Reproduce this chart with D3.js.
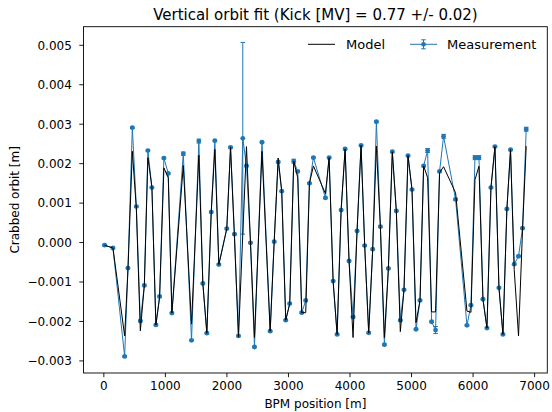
<!DOCTYPE html>
<html>
<head>
<meta charset="utf-8">
<script src="https://cdn.jsdelivr.net/npm/d3@7"></script>
<style>
  body { margin: 0; background: #fff; }
  text { font-family: "DejaVu Sans", sans-serif; fill: #000; }
</style>
</head>
<body>
<svg id="chart" width="552" height="412"></svg>
<script>
// BPM positions [m]
let bpm_pos = [20, 156, 346, 400, 471, 536, 601, 666, 724, 789, 854, 914, 984, 1055, 1114, 1299,
    1433, 1552, 1617, 1682, 1753, 1812, 1877, 2006, 2067, 2131, 2196, 2266, 2326, 2391, 2456,
    2578, 2711, 2776, 2841, 2899, 2964, 3029, 3094, 3159, 3224, 3289, 3349, 3414, 3609, 3669,
    3734, 3799, 3864, 3929, 3993, 4058, 4123, 4188, 4247, 4312, 4377, 4437, 4502, 4567, 4632,
    4696, 4761, 4826, 4886, 4951, 5016, 5081, 5146, 5205, 5270, 5334, 5399, 5464, 5529, 5724,
    5909, 5974, 6039, 6104, 6169, 6234, 6299, 6364, 6429, 6494, 6558, 6617, 6677, 6747, 6812, 6872];

// measured crabbed orbit [m]
let measured = [-0.00008, -0.00015, -0.0029, -0.00066, 0.0029, 0.0009, -0.002, -0.0011, 0.00232,
    0.00138, -0.0021, -0.00138, 0.00213, 0.00174, -0.0018, 0.00224, -0.00249, 0.00256, -0.00105,
    -0.00231, 0.00076, 0.00257, -0.00057, 0.00034, 0.0024, 0.0002, -0.00238, 0.00263, 0.00193,
    -0.00002, -0.00266, 0.00253, -0.00226, 0.00001, 0.00203, 0.00129, -0.00198, -0.00156, 0.00205,
    0.00179, -0.00179, -0.00148, 0.00149, 0.00214, 0.00112, 0.00214, -0.00099, -0.00234, 0.00081,
    0.00236, -0.00048, -0.0019, 0.00028, 0.00245, -0.00009, -0.0023, -0.00018, 0.00305, 0.00039,
    -0.0026, -0.00067, 0.00229, 0.00079, -0.00198, -0.00121, 0.00219, 0.00133, -0.00221, -0.00148,
    0.00193, 0.00232, -0.00202, -0.00223, 0.00179, 0.00268, 0.00108, -0.00211, -0.0016, 0.00214,
    0.00214, -0.00145, -0.00218, 0.00138, 0.00242, -0.00116, -0.00234, 0.00084, 0.00234, -0.00056,
    -0.00036, 0.00035, 0.00286];

// measurement errors [m]
let errors = [0.00002, 0.00002, 0.00002, 0.00002, 0.00002, 0.00002, 0.00002, 0.00002, 0.00002,
    0.00002, 0.00002, 0.00002, 0.00002, 0.00002, 0.00002, 0.00004, 0.00002, 0.00005, 0.00002,
    0.00002, 0.00002, 0.00002, 0.00002, 0.00002, 0.00002, 0.00002, 0.00002, 0.00243, 0.00002,
    0.00002, 0.00002, 0.00002, 0.00002, 0.00002, 0.00002, 0.00002, 0.00002, 0.00002, 0.00005,
    0.00002, 0.00002, 0.00002, 0.00002, 0.00002, 0.00002, 0.00002, 0.00002, 0.00002, 0.00002,
    0.00002, 0.00002, 0.00002, 0.00002, 0.00002, 0.00002, 0.00002, 0.00002, 0.00002, 0.00002,
    0.00002, 0.00002, 0.00002, 0.00002, 0.00002, 0.00002, 0.00002, 0.00002, 0.00002, 0.00002,
    0.00002, 0.00005, 0.00002, 0.00009, 0.00002, 0.00005, 0.00002, 0.00002, 0.00002, 0.00005,
    0.00005, 0.00002, 0.00002, 0.00002, 0.00002, 0.00002, 0.00002, 0.00002, 0.00002, 0.00002,
    0.00002, 0.00002, 0.00005];

// fitted model orbit [m]
let model = [-0.00008, -0.00015, -0.00238, -0.0007, 0.0023, 0.00085, -0.00225, -0.0011, 0.00214,
    0.0014, -0.0021, -0.0014, 0.00188, 0.00163, -0.0018, 0.00194, -0.00208, 0.0022, -0.00105,
    -0.00231, 0.00076, 0.00235, -0.00057, 0.00034, 0.0024, 0.0001, -0.0024, 0.0002, 0.00242,
    0.0, -0.00242, 0.0023, -0.00226, 0.0, 0.00213, 0.00129, -0.00198, -0.00156, 0.00205,
    0.00163, -0.00179, -0.00179, 0.00149, 0.00193, 0.00123, 0.00214, -0.00099, -0.00234, 0.00081,
    0.00236, -0.00048, -0.00242, 0.00028, 0.00245, -0.00009, -0.0023, -0.00018, 0.00243, 0.00039,
    -0.00242, -0.00067, 0.00229, 0.00079, -0.00227, -0.00121, 0.00219, 0.00133, -0.00204, -0.00148,
    0.00193, 0.00163, -0.00177, -0.00177, 0.00176, 0.00191, 0.00125, -0.00175, -0.00178, 0.00158,
    0.00192, -0.00145, -0.00218, 0.00138, 0.00242, -0.00116, -0.00234, 0.00084, 0.00234, -0.0007,
    -0.00238, 0.0003, 0.00243];

let x_ticks = [0, 1000, 2000, 3000, 4000, 5000, 6000, 7000];
let y_ticks = [-0.003, -0.002, -0.001, 0.000, 0.001, 0.002, 0.003, 0.004, 0.005];

let title_text = 'Vertical orbit fit (Kick [MV] = 0.77 +/- 0.02)';
let x_label = 'BPM position [m]';
let y_label = 'Crabbed orbit [m]';
let legend_names = ['Model', 'Measurement'];

let blue = '#1f77b4';
let ax_left = 83.5, ax_right = 547.3, ax_top = 26.7, ax_bottom = 373;

var svg = d3.select('#chart');
svg.append('rect').attr('width', 552).attr('height', 412).attr('fill', '#fff');

let data = bpm_pos.map((p, i) => ({pos: p, meas: measured[i], err: errors[i], model: model[i]}));

// matplotlib style 5% margins
let x_min = d3.min(bpm_pos), x_max = d3.max(bpm_pos);
let y_min = d3.min(data, d => Math.min(d.meas - d.err, d.model));
let y_max = d3.max(data, d => Math.max(d.meas + d.err, d.model));
let x_pad = (x_max - x_min) * 0.05, y_pad = (y_max - y_min) * 0.05;

var x_range = d3.scaleLinear().domain([x_min - x_pad, x_max + x_pad]).range([ax_left, ax_right]);
var y_range = d3.scaleLinear().domain([y_min - y_pad, y_max + y_pad]).range([ax_bottom, ax_top]);

// axes
var x_axis = svg.append('g').attr('transform', 'translate(0,' + ax_bottom + ')')
    .call(d3.axisBottom(x_range).tickValues(x_ticks).tickFormat(d3.format('d'))
        .tickSize(4.2).tickPadding(3.5));
var y_axis = svg.append('g').attr('transform', 'translate(' + ax_left + ',0)')
    .call(d3.axisLeft(y_range).tickValues(y_ticks).tickFormat(d3.format('.3f'))
        .tickSize(4.2).tickPadding(7.5));
[x_axis, y_axis].forEach(ax => {
    ax.select('.domain').remove();
    ax.selectAll('line').attr('stroke', '#000').attr('stroke-width', 0.9);
    ax.selectAll('text').style('font-size', '12px').attr('fill', '#000');
});
x_axis.selectAll('text').attr('dy', '0.76em');
y_axis.selectAll('text').attr('dy', '0.36em');

var plot = svg.append('g');

// measurement: error bars, line, markers
plot.selectAll('.err').data(data).enter().append('line')
    .attr('x1', d => x_range(d.pos)).attr('x2', d => x_range(d.pos))
    .attr('y1', d => y_range(d.meas - d.err)).attr('y2', d => y_range(d.meas + d.err))
    .attr('stroke', blue).attr('stroke-width', 1);
[-1, 1].forEach(s => {
    plot.selectAll('.cap' + s).data(data).enter().append('line')
        .attr('x1', d => x_range(d.pos) - 2.3).attr('x2', d => x_range(d.pos) + 2.3)
        .attr('y1', d => y_range(d.meas + s * d.err)).attr('y2', d => y_range(d.meas + s * d.err))
        .attr('stroke', blue).attr('stroke-width', 1);
});
plot.append('path').datum(data)
    .attr('d', d3.line().x(d => x_range(d.pos)).y(d => y_range(d.meas)))
    .attr('fill', 'none').attr('stroke', blue).attr('stroke-width', 1);
plot.selectAll('.dot').data(data).enter().append('circle')
    .attr('cx', d => x_range(d.pos)).attr('cy', d => y_range(d.meas))
    .attr('r', 2.4).attr('fill', blue);

// model line
plot.append('path').datum(data)
    .attr('d', d3.line().x(d => x_range(d.pos)).y(d => y_range(d.model)))
    .attr('fill', 'none').attr('stroke', '#000').attr('stroke-width', 1);

// frame
svg.append('rect').attr('x', ax_left).attr('y', ax_top)
    .attr('width', ax_right - ax_left).attr('height', ax_bottom - ax_top)
    .attr('fill', 'none').attr('stroke', '#000').attr('stroke-width', 0.9);

// texts
svg.append('text').attr('x', (ax_left + ax_right) / 2).attr('y', 19.5)
    .attr('text-anchor', 'middle').style('font-size', '15px').text(title_text);
svg.append('text').attr('x', (ax_left + ax_right) / 2).attr('y', 408)
    .attr('text-anchor', 'middle').style('font-size', '12px').text(x_label);
svg.append('text').attr('transform', 'translate(18.5,' + (ax_top + ax_bottom) / 2 + ') rotate(-90)')
    .attr('text-anchor', 'middle').style('font-size', '12px').text(y_label);

// legend
let leg_y = 44.3;
svg.append('line').attr('x1', 308).attr('x2', 335).attr('y1', leg_y).attr('y2', leg_y)
    .attr('stroke', '#000').attr('stroke-width', 1);
svg.append('text').attr('x', 346).attr('y', leg_y + 4.7).style('font-size', '13px').text(legend_names[0]);
svg.append('line').attr('x1', 410).attr('x2', 437).attr('y1', leg_y).attr('y2', leg_y)
    .attr('stroke', blue).attr('stroke-width', 1);
svg.append('line').attr('x1', 423.5).attr('x2', 423.5).attr('y1', leg_y - 4.5).attr('y2', leg_y + 4.5)
    .attr('stroke', blue).attr('stroke-width', 1);
[-4.5, 4.5].forEach(o => {
    svg.append('line').attr('x1', 421.2).attr('x2', 425.8).attr('y1', leg_y + o).attr('y2', leg_y + o)
        .attr('stroke', blue).attr('stroke-width', 1);
});
svg.append('circle').attr('cx', 423.5).attr('cy', leg_y).attr('r', 2.4).attr('fill', blue);
svg.append('text').attr('x', 447).attr('y', leg_y + 4.7).style('font-size', '13px').text(legend_names[1]);
</script>
</body>
</html>
